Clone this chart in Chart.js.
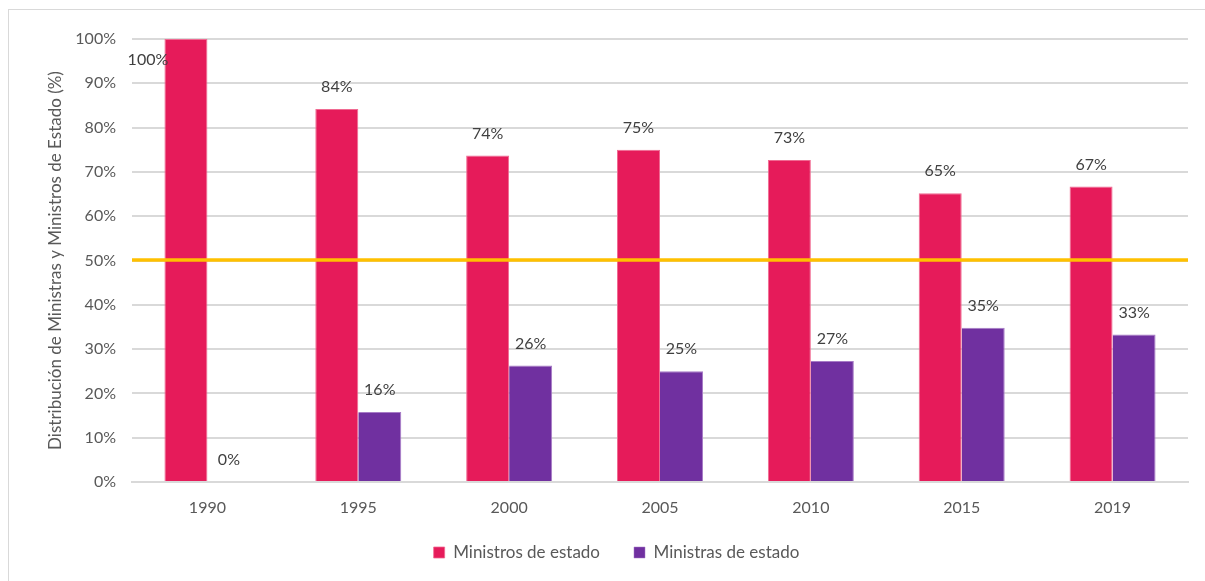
<!DOCTYPE html>
<html lang="es">
<head>
  <meta charset="UTF-8">
  <title>Distribución de Ministras y Ministros de Estado</title>
  <script src="https://cdn.jsdelivr.net/npm/chart.js"></script>
  <style>
    body {
      margin: 0;
      padding: 0;
      background: #ffffff;
      overflow: hidden;
    }
    /* frame of the chart, only top and left edges visible */
    #frame {
      position: absolute;
      left: 8px;
      top: 9px;
      width: 1300px;
      height: 700px;
      border: 1px solid #d9d9d9;
    }
    #wrap {
      position: absolute;
      left: 0;
      top: 0;
      width: 1205px;
      height: 581px;
    }
  </style>
</head>
<body>
  <div id="frame"></div>
  <div id="wrap">
    <canvas id="chart"></canvas>
  </div>

  <script>
    // data
    const years = ['1990', '1995', '2000', '2005', '2010', '2015', '2019'];
    const ministros = [100, 84.2, 73.7, 75.0, 72.7, 65.2, 66.7];
    const ministras = [0, 15.8, 26.3, 25.0, 27.3, 34.8, 33.3];
    const parityValue = 50;
    const yTicks = [0, 10, 20, 30, 40, 50, 60, 70, 80, 90, 100];

    const FONT = 'Lato, "Open Sans", sans-serif';

    // value labels above each bar
    const barLabels = {
      id: 'barLabels',
      afterDatasetsDraw(chart) {
        const ctx = chart.ctx;
        const area = chart.chartArea;
        ctx.save();
        ctx.font = '16px ' + FONT;
        ctx.fillStyle = '#404040';
        ctx.textAlign = 'center';
        ctx.textBaseline = 'middle';
        [0, 1].forEach(di => {
          const meta = chart.getDatasetMeta(di);
          const values = chart.data.datasets[di].data;
          meta.data.forEach((bar, i) => {
            const txt = Math.round(values[i]) + '%';
            let x = bar.x;
            let y = bar.y - 22;
            if (y - 8 < area.top) {
              // no room above: put it beside the bar, like the original
              x = bar.x - 38;
              y = area.top + 21;
            }
            ctx.fillText(txt, x, y);
          });
        });
        ctx.restore();
      }
    };

    // 50% parity line across the whole plot, on top of the bars
    const parityLine = {
      id: 'parityLine',
      afterDatasetsDraw(chart) {
        const ctx = chart.ctx;
        const area = chart.chartArea;
        const y = chart.scales.y.getPixelForValue(parityValue);
        ctx.save();
        ctx.strokeStyle = '#ffc000';
        ctx.lineWidth = 3.5;
        ctx.beginPath();
        ctx.moveTo(area.left, y - 0.5);
        ctx.lineTo(area.right, y - 0.5);
        ctx.stroke();
        ctx.restore();
      }
    };

    // keep the wide gap between legend items but a compact legend box
    const legendHeight = {
      id: 'legendHeight',
      beforeLayout(chart) {
        const lg = chart.legend;
        if (lg && !lg._fixedFit) {
          const fit = lg.fit.bind(lg);
          lg.fit = function () { fit(); this.height = 71; };
          lg._fixedFit = true;
        }
      }
    };

    new Chart(document.getElementById('chart').getContext('2d'), {
      type: 'bar',
      data: {
        labels: years,
        datasets: [
          {
            label: 'Ministros de estado',
            data: ministros,
            backgroundColor: '#e61b5a',
            borderColor: '#f06a92',
            borderWidth: { left: 1, right: 1, top: 1, bottom: 0 },
            categoryPercentage: 0.57,
            barPercentage: 1.0
          },
          {
            label: 'Ministras de estado',
            data: ministras,
            backgroundColor: '#7030a0',
            borderColor: '#a77bc6',
            borderWidth: { left: 0, right: 1, top: 1, bottom: 0 },
            categoryPercentage: 0.57,
            barPercentage: 1.0
          }
        ]
      },
      options: {
        responsive: true,
        maintainAspectRatio: false,
        animation: false,
        layout: { padding: { top: 39, right: 17, left: 45, bottom: 0 } },
        plugins: {
          legend: {
            position: 'bottom',
            labels: {
              boxWidth: 11,
              boxHeight: 11,
              padding: 34,
              color: '#595959',
              font: { family: FONT, size: 17 }
            }
          },
          tooltip: { enabled: false }
        },
        scales: {
          x: {
            grid: { display: false, drawTicks: false },
            border: { display: true, color: '#d9d9d9', width: 2 },
            ticks: { color: '#595959', padding: 16, font: { family: FONT, size: 16 } },
            afterFit: s => { s.height = 28; },
            // the axis box is short, so do not clip its labels to it
            afterUpdate: s => { s._computeLabelArea = () => undefined; }
          },
          y: {
            min: 0,
            max: 100,
            afterBuildTicks: s => { s.ticks = yTicks.map(v => ({ value: v })); },
            grid: { color: '#d9d9d9', lineWidth: 2, drawTicks: false },
            border: { display: false },
            ticks: {
              color: '#595959',
              padding: 16,
              font: { family: FONT, size: 16 },
              callback: v => v + '%'
            },
            title: {
              display: true,
              text: 'Distribución de Ministras y Ministros de Estado (%)',
              color: '#595959',
              font: { family: FONT, size: 17 },
              padding: { top: 0, bottom: 8 }
            },
            afterFit: s => { s.width = 87; }
          }
        }
      },
      plugins: [barLabels, parityLine, legendHeight]
    });
  </script>
</body>
</html>
